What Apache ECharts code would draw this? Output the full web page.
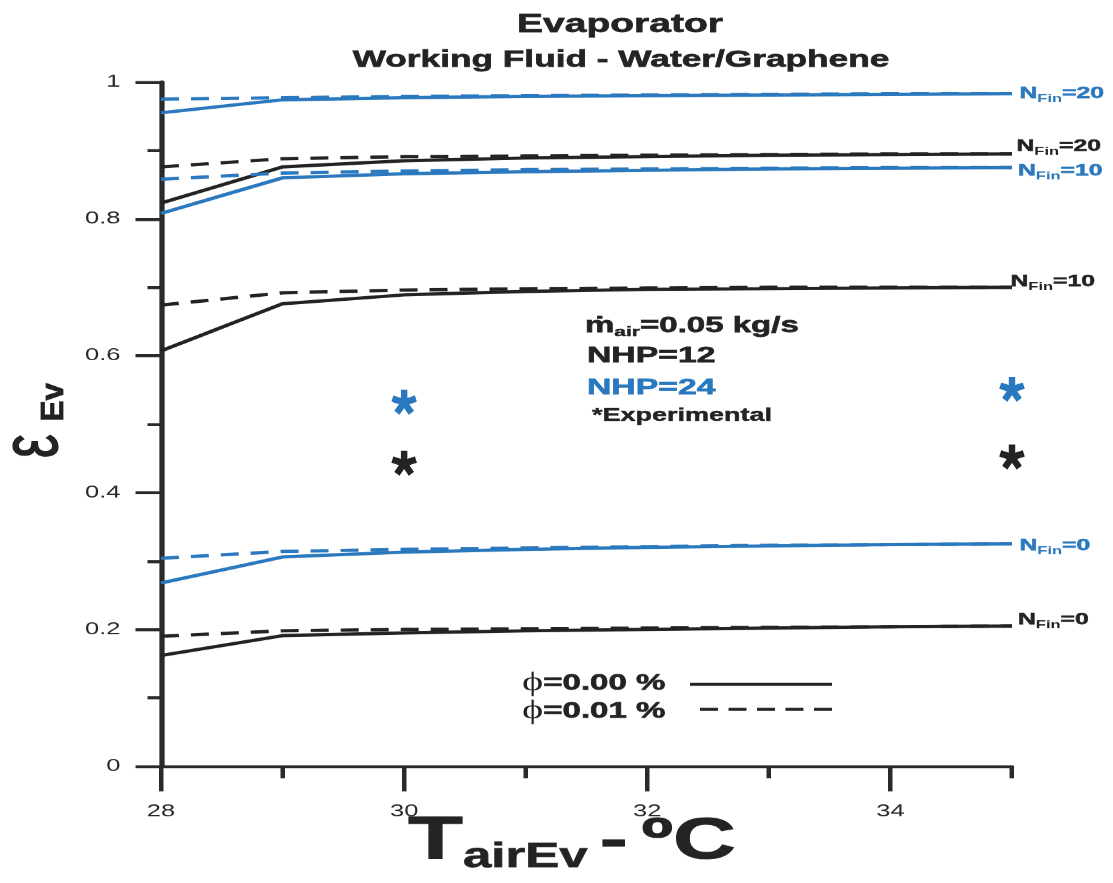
<!DOCTYPE html>
<html>
<head>
<meta charset="utf-8">
<title>Evaporator effectiveness</title>
<script src="https://cdn.jsdelivr.net/npm/echarts@6/dist/echarts.min.js"></script>
<style>
  html, body { margin: 0; padding: 0; background: #fff; overflow: hidden; }
  #wrap { width: 1113px; height: 883px; overflow: hidden; }
  /* the figure is laid out narrow and widened horizontally */
  #chart { width: 742px; height: 883px; transform: scaleX(1.5); transform-origin: 0 0; }
</style>
</head>
<body>
<div id="wrap"><div id="chart"></div></div>
<script>
// ---- data ----
const temps = [28, 29, 30, 31, 32, 33, 34, 35];            // T_airEv, °C
const xTickLabels = [28, 30, 32, 34];

// NHP = 24 (blue)
const nhp24Fin20Phi000 = [0.955, 0.974, 0.977, 0.979, 0.980, 0.981, 0.982, 0.983];
const nhp24Fin20Phi001 = [0.975, 0.977, 0.979, 0.980, 0.981, 0.982, 0.983, 0.983];
const nhp24Fin10Phi000 = [0.808, 0.860, 0.866, 0.869, 0.871, 0.873, 0.874, 0.875];
const nhp24Fin10Phi001 = [0.858, 0.867, 0.870, 0.872, 0.873, 0.874, 0.875, 0.875];
const nhp24Fin0Phi000  = [0.268, 0.306, 0.313, 0.317, 0.320, 0.322, 0.324, 0.325];
const nhp24Fin0Phi001  = [0.304, 0.314, 0.317, 0.319, 0.321, 0.323, 0.324, 0.325];

// NHP = 12 (black)
const nhp12Fin20Phi000 = [0.823, 0.876, 0.885, 0.889, 0.891, 0.893, 0.894, 0.895];
const nhp12Fin20Phi001 = [0.876, 0.888, 0.891, 0.892, 0.893, 0.894, 0.895, 0.895];
const nhp12Fin10Phi000 = [0.607, 0.676, 0.689, 0.694, 0.697, 0.698, 0.699, 0.700];
const nhp12Fin10Phi001 = [0.674, 0.692, 0.696, 0.698, 0.699, 0.700, 0.700, 0.700];
const nhp12Fin0Phi000  = [0.162, 0.191, 0.195, 0.198, 0.200, 0.202, 0.204, 0.205];
const nhp12Fin0Phi001  = [0.190, 0.198, 0.200, 0.201, 0.202, 0.203, 0.204, 0.205];

// experimental points
const expTemps = [30, 35];
const expNhp24 = [0.532, 0.551];
const expNhp12 = [0.443, 0.452];

// ---- styling ----
const STRETCH = 1.5;                 // horizontal widening of the whole figure
const hx = px => px / STRETCH;       // page x -> layout x
const BLUE = '#2a78bd';
const BLACK = '#232323';
const AXIS = '#2a2a2a';
const FONT = '"Liberation Sans", Arial, "DejaVu Sans", sans-serif';
const DASH = [12, 8];

const gridLeft = hx(161), gridRight = 742 - hx(1012), gridTop = 82, gridBottom = 117;
const plotWidth = 742 - gridLeft - gridRight;

// five-armed asterisk marker
function asteriskPath() {
  const L = 10, h = 2.6, pts = [];
  for (let i = 0; i < 5; i++) {
    const a = (-90 + i * 72) * Math.PI / 180;
    const dx = Math.cos(a), dy = Math.sin(a), px = -dy, py = dx;
    pts.push([L * dx - h * px, L * dy - h * py]);
    pts.push([L * dx + h * px, L * dy + h * py]);
    const b = a + 36 * Math.PI / 180, r = h / Math.sin(36 * Math.PI / 180);
    pts.push([r * Math.cos(b), r * Math.sin(b)]);
  }
  return 'path://M' + pts.map(p => p[0].toFixed(3) + ' ' + p[1].toFixed(3)).join(' L') + ' Z';
}

function finLabel(nfin, color, offset) {
  return {
    show: true,
    distance: 4,
    offset: offset,
    formatter: '{n|N}{f|Fin}{n|=' + nfin + '}',
    rich: {
      n: { fontFamily: FONT, fontWeight: 'bold', fontSize: 16.5, color: color, lineHeight: 22,
           textBorderColor: color, textBorderWidth: 0.5 },
      f: { fontFamily: FONT, fontWeight: 'bold', fontSize: 11, color: color, lineHeight: 11, verticalAlign: 'bottom' }
    }
  };
}

function curve(name, values, color, dashed, label) {
  return {
    type: 'line',
    name: name,
    xAxisIndex: 0,
    yAxisIndex: 0,
    data: temps.map((t, i) => [t, values[i]]),
    symbol: 'none',
    silent: true,
    animation: false,
    z: dashed ? 3 : 2,
    lineStyle: { color: color, width: 3.3, type: dashed ? DASH : 'solid' },
    endLabel: label || { show: false }
  };
}

function experimental(name, values, color) {
  return {
    type: 'scatter',
    name: name,
    xAxisIndex: 0,
    yAxisIndex: 0,
    data: expTemps.map((t, i) => [t, values[i]]),
    symbol: asteriskPath(),
    symbolSize: [17, 25],
    symbolKeepAspect: false,
    itemStyle: { color: color, opacity: 1 },
    animation: false,
    silent: true,
    clip: false,
    z: 5
  };
}

// heavier text: fill plus a thin outline of the same colour
function heavy(color, w) {
  return { fill: color, stroke: color, lineWidth: w };
}

const chart = echarts.init(document.getElementById('chart'), null, { renderer: 'canvas', devicePixelRatio: 1.5 });

const option = {
  backgroundColor: '#ffffff',
  animation: false,
  grid: [
    { left: gridLeft, right: gridRight, top: gridTop, bottom: gridBottom },
    { left: gridLeft, width: plotWidth * 6 / 7, top: gridTop, bottom: gridBottom }
  ],
  xAxis: [
    {
      type: 'value', gridIndex: 0, min: 28, max: 35, interval: 1,
      axisLine: { show: true, onZero: false, lineStyle: { color: AXIS, width: 3 } },
      axisTick: { show: true, length: 12, lineStyle: { color: AXIS, width: 3 } },
      axisLabel: { show: false },
      splitLine: { show: false }
    },
    {
      type: 'value', gridIndex: 1, min: 28, max: 34, interval: 2,
      axisLine: { show: false, onZero: false },
      axisTick: { show: true, length: 25, lineStyle: { color: AXIS, width: 3 } },
      axisLabel: {
        show: true, margin: 37, fontSize: 17, fontFamily: FONT, color: '#2a2a2a',
        formatter: v => (xTickLabels.indexOf(v) >= 0 ? String(v) : '')
      },
      splitLine: { show: false }
    }
  ],
  yAxis: [
    {
      type: 'value', gridIndex: 0, min: 0, max: 1, interval: 0.2,
      axisLine: { show: true, onZero: false, lineStyle: { color: AXIS, width: 3.5 } },
      axisTick: { show: true, length: 17, lineStyle: { color: AXIS, width: 3 } },
      minorTick: { show: true, splitNumber: 2, length: 9, lineStyle: { color: AXIS, width: 3 } },
      axisLabel: { margin: 27, fontSize: 17, fontFamily: FONT, color: '#2a2a2a' },
      splitLine: { show: false },
      minorSplitLine: { show: false }
    },
    { type: 'value', gridIndex: 1, min: 0, max: 1, show: false }
  ],
  series: [
    curve('NHP=12, NFin=0, φ=0.00 %', nhp12Fin0Phi000, BLACK, false, finLabel(0, BLACK, [0, -6])),
    curve('NHP=12, NFin=0, φ=0.01 %', nhp12Fin0Phi001, BLACK, true),
    curve('NHP=24, NFin=0, φ=0.00 %', nhp24Fin0Phi000, BLUE, false, finLabel(0, BLUE, [1, 2])),
    curve('NHP=24, NFin=0, φ=0.01 %', nhp24Fin0Phi001, BLUE, true),
    curve('NHP=12, NFin=10, φ=0.00 %', nhp12Fin10Phi000, BLACK, false, finLabel(10, BLACK, [-5, -6])),
    curve('NHP=12, NFin=10, φ=0.01 %', nhp12Fin10Phi001, BLACK, true),
    curve('NHP=24, NFin=10, φ=0.00 %', nhp24Fin10Phi000, BLUE, false, finLabel(10, BLUE, [0, 3])),
    curve('NHP=24, NFin=10, φ=0.01 %', nhp24Fin10Phi001, BLUE, true),
    curve('NHP=12, NFin=20, φ=0.00 %', nhp12Fin20Phi000, BLACK, false, finLabel(20, BLACK, [-1, -8])),
    curve('NHP=12, NFin=20, φ=0.01 %', nhp12Fin20Phi001, BLACK, true),
    curve('NHP=24, NFin=20, φ=0.00 %', nhp24Fin20Phi000, BLUE, false, finLabel(20, BLUE, [1, 0])),
    curve('NHP=24, NFin=20, φ=0.01 %', nhp24Fin20Phi001, BLUE, true),
    experimental('NHP=24 experimental', expNhp24, BLUE),
    experimental('NHP=12 experimental', expNhp12, BLACK)
  ],
  graphic: [
    // titles
    { type: 'text', x: hx(620), y: 25, silent: true,
      style: Object.assign({ text: 'Evaporator', font: 'bold 26px ' + FONT, align: 'center', verticalAlign: 'middle' }, heavy(BLACK, 0.6)) },
    { type: 'text', x: hx(621), y: 60, silent: true,
      style: Object.assign({ text: 'Working Fluid - Water/Graphene', font: 'bold 23.5px ' + FONT, align: 'center', verticalAlign: 'middle' }, heavy(BLACK, 0.6)) },

    // operating conditions
    { type: 'text', x: hx(585), y: 326, silent: true,
      style: {
        text: '{m|ṁ}{s|air}{m|=0.05 kg/s}', align: 'left', verticalAlign: 'middle',
        rich: {
          m: Object.assign({ font: 'bold 22px ' + FONT, lineHeight: 26 }, heavy(BLACK, 0.6)),
          s: Object.assign({ font: 'bold 14px ' + FONT, lineHeight: 14, verticalAlign: 'bottom' }, heavy(BLACK, 0.4))
        }
      } },
    { type: 'text', x: hx(587), y: 356, silent: true,
      style: Object.assign({ text: 'NHP=12', font: 'bold 22.5px ' + FONT, align: 'left', verticalAlign: 'middle' }, heavy(BLACK, 0.6)) },
    { type: 'text', x: hx(587), y: 388, silent: true,
      style: Object.assign({ text: 'NHP=24', font: 'bold 22.5px ' + FONT, align: 'left', verticalAlign: 'middle' }, heavy(BLUE, 0.6)) },
    { type: 'text', x: hx(592), y: 416, silent: true,
      style: Object.assign({ text: '*Experimental', font: 'bold 18px ' + FONT, align: 'left', verticalAlign: 'middle' }, heavy(BLACK, 0.4)) },

    // line-style key
    { type: 'text', x: hx(522), y: 683, silent: true,
      style: {
        text: '{p|ϕ}{b|=0.00 %}', align: 'left', verticalAlign: 'middle',
        rich: {
          p: { font: '27px "Liberation Serif", "DejaVu Serif", serif', fill: BLACK },
          b: Object.assign({ font: 'bold 22px ' + FONT }, heavy(BLACK, 0.6))
        }
      } },
    { type: 'text', x: hx(522), y: 711, silent: true,
      style: {
        text: '{p|ϕ}{b|=0.01 %}', align: 'left', verticalAlign: 'middle',
        rich: {
          p: { font: '27px "Liberation Serif", "DejaVu Serif", serif', fill: BLACK },
          b: Object.assign({ font: 'bold 22px ' + FONT }, heavy(BLACK, 0.6))
        }
      } },
    { type: 'line', silent: true, shape: { x1: hx(690), y1: 684, x2: hx(832), y2: 684 },
      style: { stroke: BLACK, lineWidth: 3 } },
    { type: 'line', silent: true, shape: { x1: hx(700), y1: 709, x2: hx(832), y2: 709 },
      style: { stroke: BLACK, lineWidth: 3, lineDash: [12, 7] } },

    // y axis name: ε with subscript Ev
    { type: 'text', x: hx(35), y: 446, rotation: Math.PI / 2, silent: true,
      style: Object.assign({ text: 'ε', font: '54px ' + FONT, align: 'center', verticalAlign: 'middle' }, heavy(BLACK, 0.8)) },
    { type: 'text', x: hx(54), y: 402, rotation: Math.PI / 2, scaleX: 1.5, silent: true,
      style: Object.assign({ text: 'Ev', font: 'bold 21px ' + FONT, align: 'center', verticalAlign: 'middle' }, heavy(BLACK, 0.5)) },

    // x axis name: T airEv - ºC
    { type: 'text', x: hx(408), y: 842, silent: true,
      style: {
        text: '{t|T}{s|airEv}{d|-}{c|ºC}', align: 'left', verticalAlign: 'middle',
        rich: {
          t: Object.assign({ font: 'bold 60px ' + FONT, lineHeight: 64 }, heavy(BLACK, 0.8)),
          s: Object.assign({ font: 'bold 34px ' + FONT, lineHeight: 32, verticalAlign: 'bottom' }, heavy(BLACK, 0.6)),
          d: Object.assign({ font: 'bold 56px ' + FONT, lineHeight: 64, padding: [0, 9, 0, 8] }, heavy(BLACK, 0.8)),
          c: Object.assign({ font: 'bold 58px ' + FONT, lineHeight: 64 }, heavy(BLACK, 0.8))
        }
      } }
  ]
};

chart.setOption(option);
</script>
</body>
</html>
